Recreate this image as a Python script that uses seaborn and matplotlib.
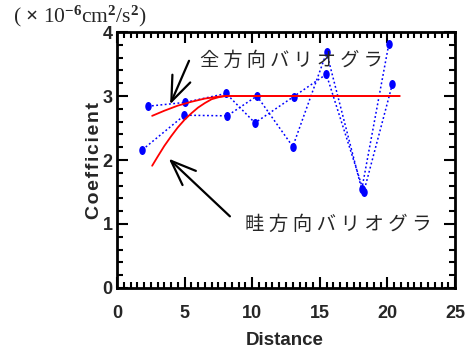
import numpy as np
import pandas as pd
import seaborn as sns
import matplotlib
matplotlib.use("Agg")
import matplotlib.pyplot as plt
from matplotlib.path import Path
from matplotlib.transforms import Affine2D
from matplotlib.ticker import MultipleLocator

# ============================================================
# Data
# ============================================================

# omnidirectional experimental variogram (blue dotted)
omni_x = [2.27, 5.04, 8.07, 10.2, 13.06, 15.48, 18.25, 20.37]
omni_y = [2.84, 2.90, 3.04, 2.58, 2.99, 3.34, 1.50, 3.19]

# ridge-direction experimental variogram (blue dotted)
ridge_x = [1.88, 4.99, 8.15, 10.35, 13.0, 15.5, 18.1, 20.1]
ridge_y = [2.16, 2.70, 2.69, 3.00, 2.21, 3.68, 1.54, 3.81]

# fitted model curves (red)
omni_fit_x = [2.6, 3.5, 4.5, 5.5, 6.5, 7.5, 8.0, 20.9]
omni_fit_y = [2.69, 2.77, 2.85, 2.91, 2.96, 2.99, 3.00, 3.00]
ridge_fit_x = [2.6, 3.0, 3.5, 4.0, 4.5, 5.0, 5.5, 6.0, 6.5, 7.0, 7.5, 8.0, 20.9]
ridge_fit_y = [1.91, 2.05, 2.22, 2.37, 2.51, 2.63, 2.73, 2.82, 2.89, 2.95, 2.98, 3.00, 3.00]

unit_label = r"( $\times$ 10$^{-6}$cm$^{2}$/s$^{2}$)"
omni_label = "全 方 向 バ リ オ グ ラ"
ridge_label = "畦 方 向 バ リ オ グ ラ"
y_label = "\u200a".join("Coefficient")

# ============================================================
# Style
# ============================================================

sns.set_style("ticks")
plt.rcParams['font.family'] = ['Liberation Sans', 'DejaVu Sans']
plt.rcParams['font.weight'] = 'bold'
plt.rcParams['mathtext.fontset'] = 'custom'
plt.rcParams['mathtext.rm'] = 'Liberation Serif'
plt.rcParams['mathtext.it'] = 'Liberation Serif'
plt.rcParams['mathtext.bf'] = 'Liberation Serif:bold'

fig = plt.figure(figsize=(4.75, 3.51), dpi=100)
ax = fig.add_axes([0.2463, 0.1795, 0.7117, 0.7293])

# tall ellipse marker
ell = Path.unit_circle().transformed(Affine2D().scale(0.72, 1.0))

# ============================================================
# Plot
# ============================================================

for xs, ys in [(omni_x, omni_y), (ridge_x, ridge_y)]:
    df = pd.DataFrame({'Distance': xs, 'Coefficient': ys})
    sns.lineplot(data=df, x='Distance', y='Coefficient', sort=False, estimator=None,
                 color='#0000ff', linestyle=(0, (1.2, 1.6)), linewidth=1.1,
                 marker=ell, markersize=6.5, markeredgewidth=0, ax=ax)

for xs, ys in [(omni_fit_x, omni_fit_y), (ridge_fit_x, ridge_fit_y)]:
    sns.lineplot(x=xs, y=ys, sort=False, estimator=None, color='#ff0000',
                 linewidth=1.3, ax=ax)

ax.set_xlim(0, 25)
ax.set_ylim(0, 4)
ax.xaxis.set_major_locator(MultipleLocator(5))
ax.xaxis.set_minor_locator(MultipleLocator(0.5))
ax.yaxis.set_major_locator(MultipleLocator(1))
ax.yaxis.set_minor_locator(MultipleLocator(0.2))
ax.tick_params(which='both', direction='in', top=True, right=True, width=1.5, color='black')
ax.tick_params(which='major', length=8, labelsize=13)
ax.tick_params(axis='x', which='major', pad=12)
ax.tick_params(axis='y', which='major', pad=3)
ax.tick_params(which='minor', length=4)
for s in ax.spines.values():
    s.set_linewidth(2)
    s.set_color('black')

ax.set_xlabel("Distance", fontsize=13.5, fontweight='bold')
ax.set_ylabel(y_label, fontsize=14, fontweight='bold')
ax.xaxis.set_label_coords(0.497, -0.172)
ax.yaxis.set_label_coords(-0.041, 0.5)

# ============================================================
# Annotations
# ============================================================

fig.text(0.027, 0.952, unit_label, fontsize=15.5, fontweight='normal',
         family=['Liberation Serif', 'DejaVu Serif'], va='center', ha='left')

cjk = ['Noto Sans CJK JP', 'DejaVu Sans']
ax.text(6.15, 3.56, omni_label, fontsize=13.8, fontweight='normal', family=cjk,
        va='center', ha='left')
ax.text(9.48, 1.0, ridge_label, fontsize=14, fontweight='normal', family=cjk,
        va='center', ha='left')

arrow = dict(arrowstyle='->,head_length=1.8,head_width=0.7', color='black', lw=1.6)
ax.annotate('', xy=(3.85, 2.83), xytext=(5.41, 3.59), arrowprops=arrow)
ax.annotate('', xy=(3.68, 2.05), xytext=(8.5, 1.09), arrowprops=arrow)

fig.savefig("out.png", dpi=100)
